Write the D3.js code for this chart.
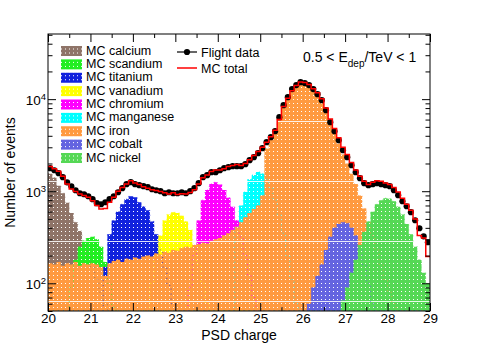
<!DOCTYPE html>
<html>
<head>
<meta charset="utf-8">
<script src="https://cdn.jsdelivr.net/npm/d3@7"></script>
<style>
body { margin: 0; background: #fff; }
text { font-family: "Liberation Sans", Arial, Helvetica, sans-serif; }
</style>
</head>
<body>
<svg width="478" height="345"></svg>
<script>

var chargeRange = [20, 29],
	binWidth = 0.1,
	countRange = [50, 51000];

var xTicks = [20, 21, 22, 23, 24, 25, 26, 27, 28, 29];
var yTicks = [100, 1000, 10000];

// flight data, one value per 0.1 bin from 20.0 to 29.0
var flightData = [
	1780, 1690, 1570, 1420, 1250, 1130, 1025, 950, 927, 882,
	819, 741, 722, 759, 819, 882, 975, 1078, 1192, 1253,
	1192, 1162, 1133, 1105, 1051, 1025, 1000, 950, 975, 950,
	950, 975, 950, 1000, 1078, 1222, 1420, 1492, 1610, 1610,
	1690, 1780, 1824, 1870, 1870, 1870, 1965, 2172, 2343, 2590,
	2933, 3410, 3863, 4487, 6370, 8610, 10500, 12850, 14200, 15300,
	14930, 14200, 12850, 11330, 9750, 7590, 5620, 4487, 3580, 2790,
	2343, 1920, 1610, 1385, 1222, 1162, 1192, 1222, 1192, 1162,
	1133, 1025, 905, 778, 687, 592, 484, 396, 324, 279
];

var mcTotal = [
	1850, 1750, 1650, 1450, 1200, 1060, 990, 930, 900, 860,
	790, 700, 640, 650, 760, 860, 1000, 1100, 1200, 1300,
	1230, 1180, 1120, 1080, 1040, 1020, 990, 960, 930, 960,
	920, 940, 930, 970, 1040, 1200, 1400, 1500, 1640, 1700,
	1700, 1750, 1850, 1900, 1950, 1900, 2000, 2200, 2450, 2700,
	3000, 3400, 3900, 4600, 6000, 8300, 10200, 12300, 14100, 15400,
	15200, 14400, 13000, 11700, 10100, 8000, 6100, 4800, 3800, 3000,
	2500, 2050, 1700, 1450, 1280, 1180, 1250, 1300, 1280, 1230,
	1180, 1100, 980, 840, 720, 620, 500, 330, 310, 195
];

/*
	MC samples : first bin low edge + values
*/
var calciumFrom = 20.0;
var calcium = [1550, 1400, 1150, 950, 750, 580, 460, 370, 260, 200, 150, 110, 80, 60, 40];

var scandiumFrom = 20.5;
var scandium = [90, 180, 250, 290, 310, 320, 300, 250, 170, 100, 55, 30];

var titaniumFrom = 21.3;
var titanium = [150, 340, 480, 600, 720, 820, 880, 860, 760, 680, 620, 470, 340, 230, 150, 95, 60];

var vanadiumFrom = 22.4;
var vanadium = [100, 200, 330, 480, 560, 590, 580, 540, 470, 380, 260, 160, 100, 60];

var chromiumFrom = 23.3;
var chromium = [90, 200, 480, 800, 1030, 1200, 1250, 1180, 1030, 850, 680, 480, 320, 200, 120, 70];

var manganeseFrom = 24.4;
var manganese = [400, 700, 980, 1350, 1500, 1620, 1550, 1350, 1100, 800, 550, 350, 200, 110, 60];

var ironFrom = 20.0;
var iron = [
	165, 160, 170, 155, 165, 160, 170, 155, 165, 160,
	165, 160, 150, 120, 165, 175, 180, 170, 185, 180,
	190, 185, 195, 200, 195, 210, 205, 220, 215, 230,
	225, 240, 250, 245, 260, 265, 275, 270, 290, 300,
	310, 330, 350, 380, 410, 460, 520, 580, 640, 700,
	900, 2900, 3600, 4300, 6200, 8400, 10300, 12600, 14000, 15100,
	14800, 14000, 12600, 11100, 9500, 7400, 5400, 4200, 3300, 2500,
	2000, 1550, 1200, 900, 650, 460, 330, 230, 160, 110,
	80, 60, 45, 30, 20, 12, 8, 5, 3, 2
];

var cobaltFrom = 26.0;
var cobalt = [40, 60, 90, 120, 160, 230, 320, 400, 440, 460, 450, 400, 330, 240, 160, 100, 60, 40];

var nickelFrom = 26.8;
var nickel = [50, 65, 90, 130, 180, 260, 360, 470, 600, 720, 800, 840, 830, 780, 680, 560, 440, 340, 250, 180, 130, 100];

var sampleNames = ['MC calcium', 'MC scandium', 'MC titanium', 'MC vanadium', 'MC chromium',
	'MC manganese', 'MC iron', 'MC cobalt', 'MC nickel'];
var sampleColors = ['#8f7468', '#22ee22', '#1122dd', '#ffff00', '#ff00ff',
	'#00ffff', '#ff9a40', '#6464e0', '#55d855'];


var svg = d3.select('body svg'),
	plotL = 48, plotR = 430, plotT = 34, plotB = 311;

var nBins = Math.round((chargeRange[1] - chargeRange[0]) / binWidth);

function toBins(from, values) {
	var out = d3.range(nBins).map(function () { return 0; }),
		start = Math.round((from - chargeRange[0]) / binWidth);
	values.forEach(function (v, i) { out[start + i] = v; });
	return out;
}

var samples = [
	toBins(calciumFrom, calcium),
	toBins(scandiumFrom, scandium),
	toBins(titaniumFrom, titanium),
	toBins(vanadiumFrom, vanadium),
	toBins(chromiumFrom, chromium),
	toBins(manganeseFrom, manganese),
	toBins(ironFrom, iron),
	toBins(cobaltFrom, cobalt),
	toBins(nickelFrom, nickel)
];

var x = d3.scaleLinear().domain(chargeRange).range([plotL, plotR]);
var y = d3.scaleLog().domain(countRange).range([plotB, plotT]);

function steps(values) {
	var pts = [];
	values.forEach(function (v, i) {
		var lo = chargeRange[0] + i * binWidth;
		pts.push([lo, v], [lo + binWidth, v]);
	});
	return pts;
}

function yc(v) {
	return y(Math.max(v, countRange[0]));
}


/*
	fill patterns (ROOT style dots)
*/
var defs = svg.append('defs');

sampleColors.forEach(function (c, i) {
	var p = defs.append('pattern').attr('id', 'pat' + i)
		.attr('patternUnits', 'userSpaceOnUse')
		.attr('x', 0).attr('y', 1).attr('width', 4).attr('height', 60);
	p.append('rect').attr('width', 4).attr('height', 60).attr('fill', c);
	d3.range(15).forEach(function (k) {
		p.append('rect').attr('x', 1).attr('y', 2 + k * 4).attr('width', 1).attr('height', 1).attr('fill', '#fff');
	});
	p.append('rect').attr('width', 4).attr('height', 1).attr('fill', '#fff').attr('opacity', 0.85);

	var q = defs.append('pattern').attr('id', 'leg' + i)
		.attr('patternUnits', 'userSpaceOnUse')
		.attr('x', 0).attr('y', 0).attr('width', 4).attr('height', 4);
	q.append('rect').attr('width', 4).attr('height', 4).attr('fill', c);
	q.append('rect').attr('x', 1).attr('y', 2).attr('width', 1).attr('height', 1).attr('fill', '#fff');
});

defs.append('clipPath').attr('id', 'plotclip').append('rect')
	.attr('x', plotL).attr('y', plotT).attr('width', plotR - plotL).attr('height', plotB - plotT);


var plot = svg.append('g').attr('clip-path', 'url(#plotclip)');

var area = d3.area()
	.x(function (d) { return x(d[0]); })
	.y0(plotB)
	.y1(function (d) { return yc(d[1]); });

var line = d3.line()
	.x(function (d) { return x(d[0]); })
	.y(function (d) { return yc(d[1]); });

plot.selectAll('path.mc').data(samples).enter().append('path')
	.attr('class', 'mc')
	.attr('d', function (d) { return area(steps(d)); })
	.attr('fill', function (d, i) { return 'url(#pat' + i + ')'; });

// hidden outlines showing through
plot.selectAll('path.outline').data(samples).enter().append('path')
	.attr('class', 'outline')
	.attr('d', function (d) { return line(steps(d)); })
	.attr('fill', 'none')
	.attr('stroke', function (d, i) { return sampleColors[i]; })
	.attr('stroke-width', 1)
	.attr('stroke-dasharray', '1 4')
	.attr('opacity', 0.7);

/*
	Flight data
*/
plot.append('g').selectAll('line').data(flightData).enter().append('line')
	.attr('x1', function (d, i) { return x(chargeRange[0] + i * binWidth); })
	.attr('x2', function (d, i) { return x(chargeRange[0] + (i + 1) * binWidth); })
	.attr('y1', function (d) { return y(d); })
	.attr('y2', function (d) { return y(d); })
	.attr('stroke', '#000')
	.attr('stroke-width', 1);

plot.append('g').selectAll('circle').data(flightData).enter().append('circle')
	.attr('cx', function (d, i) { return x(chargeRange[0] + (i + 0.5) * binWidth); })
	.attr('cy', function (d) { return y(d); })
	.attr('r', 3.1)
	.attr('fill', '#000');

/*
	MC total
*/
plot.append('path')
	.attr('d', line(steps(mcTotal)))
	.attr('fill', 'none')
	.attr('stroke', '#ff0000')
	.attr('stroke-width', 1.5);


/*
	Axes
*/
var xMinor = d3.range(20.5, 29, 1);
var yMinor = y.ticks().filter(function (v) {
	return Math.abs(Math.log10(v) - Math.round(Math.log10(v))) > 1e-6;
});

function axisGroup(axis, tx, ty) {
	var g = svg.append('g').attr('transform', 'translate(' + tx + ',' + ty + ')').call(axis);
	g.select('.domain').remove();
	g.selectAll('line').attr('stroke', '#000');
	return g;
}

var xAxis = axisGroup(d3.axisBottom(x).tickValues(xTicks).tickSize(-8).tickPadding(2).tickFormat(d3.format('d')), 0, plotB);
xAxis.selectAll('text').style('font-size', '13.5px').attr('fill', '#000');
axisGroup(d3.axisBottom(x).tickValues(xMinor).tickSize(-4).tickFormat(''), 0, plotB);
axisGroup(d3.axisTop(x).tickValues(xTicks).tickSize(-8).tickFormat(''), 0, plotT);
axisGroup(d3.axisTop(x).tickValues(xMinor).tickSize(-4).tickFormat(''), 0, plotT);

axisGroup(d3.axisLeft(y).tickValues(yTicks).tickSize(-8).tickFormat(''), plotL, 0);
axisGroup(d3.axisLeft(y).tickValues(yMinor).tickSize(-4.5).tickFormat(''), plotL, 0);
axisGroup(d3.axisRight(y).tickValues(yTicks).tickSize(-8).tickFormat(''), plotR, 0);
axisGroup(d3.axisRight(y).tickValues(yMinor).tickSize(-4.5).tickFormat(''), plotR, 0);

var yLab = svg.selectAll('text.ylab').data(yTicks).enter().append('text')
	.attr('class', 'ylab')
	.attr('x', 46)
	.attr('y', function (d) { return y(d) + 5.5; })
	.attr('text-anchor', 'end');
yLab.append('tspan').style('font-size', '13.5px').text('10');
yLab.append('tspan').attr('dy', -5).style('font-size', '9.5px')
	.text(function (d) { return Math.round(Math.log10(d)); });

svg.append('rect')
	.attr('x', plotL).attr('y', plotT).attr('width', plotR - plotL).attr('height', plotB - plotT)
	.attr('fill', 'none').attr('stroke', '#000').attr('stroke-width', 1);

svg.append('text')
	.attr('x', (plotL + plotR) / 2).attr('y', 340)
	.attr('text-anchor', 'middle').style('font-size', '14px')
	.text('PSD charge');

svg.append('text')
	.attr('transform', 'translate(15,' + ((plotT + plotB) / 2) + ') rotate(-90)')
	.attr('text-anchor', 'middle').style('font-size', '14px')
	.text('Number of events');

var ebin = svg.append('text').attr('x', 303).attr('y', 62).style('font-size', '14px');
ebin.append('tspan').text('0.5 < E');
ebin.append('tspan').attr('dy', 4.5).style('font-size', '10px').text('dep');
ebin.append('tspan').attr('dy', -4.5).text('/TeV < 1');


/*
	Legends
*/
var legend = svg.append('g');

var entries = legend.selectAll('g').data(sampleNames).enter().append('g')
	.attr('transform', function (d, i) { return 'translate(0,' + (54.5 + i * 13.375) + ')'; });

entries.append('rect')
	.attr('x', 61).attr('y', -8.5).attr('width', 21).attr('height', 10)
	.attr('fill', function (d, i) { return 'url(#leg' + i + ')'; });

entries.append('text')
	.attr('x', 86).attr('y', 0)
	.style('font-size', '12.5px')
	.text(function (d) { return d; });

legend.append('line').attr('x1', 177).attr('x2', 197).attr('y1', 52).attr('y2', 52)
	.attr('stroke', '#000').attr('stroke-width', 1.2);
legend.append('circle').attr('cx', 187).attr('cy', 52).attr('r', 3.1).attr('fill', '#000');
legend.append('text').attr('x', 201).attr('y', 56.5).style('font-size', '12.5px').text('Flight data');

legend.append('line').attr('x1', 177).attr('x2', 197).attr('y1', 68).attr('y2', 68)
	.attr('stroke', '#ff0000').attr('stroke-width', 1.5);
legend.append('text').attr('x', 201).attr('y', 72.5).style('font-size', '12.5px').text('MC total');

</script>
</body>
</html>
